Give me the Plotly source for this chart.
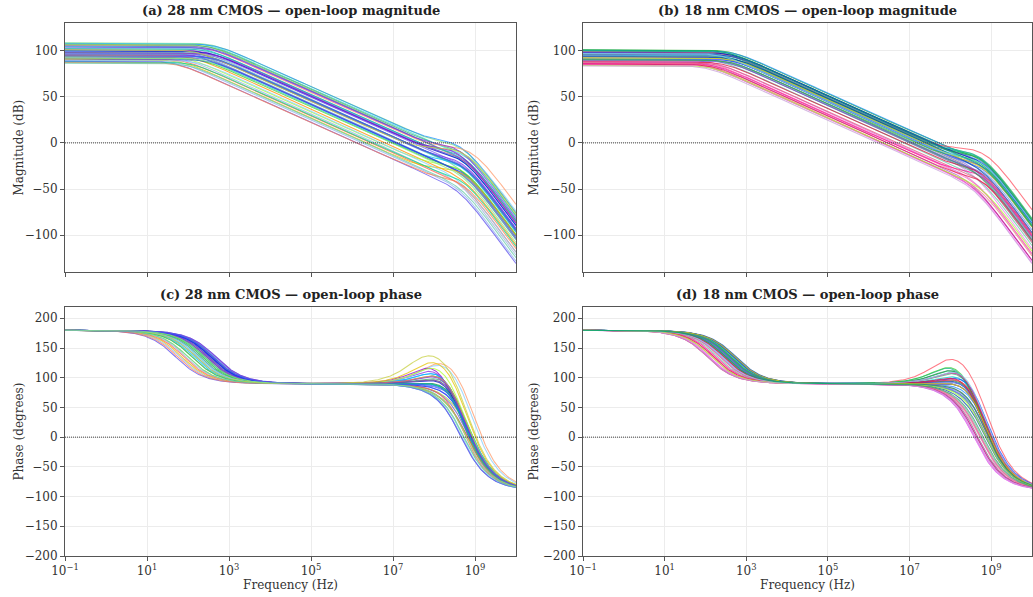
import numpy as np
import plotly.graph_objects as go

# ---------------- data (read/estimated from the reference) ----------------
# Each curve: DC gain (dB), log10 of dominant pole, log10 of LHP zero,
# log10 of the (triple) high-frequency pole, line colour.
dc_28 = [108.5, 108.0, 107.5, 107.0, 106.2, 105.5, 105.0, 104.2, 103.8, 103.0,
         102.2, 101.5, 100.8, 100.2, 99.5, 98.8, 98.0, 97.2, 96.5, 96.0,
         95.4, 94.8, 94.0, 93.5, 93.0, 92.4, 91.8, 91.2, 90.6, 90.0,
         89.5, 89.0, 88.4, 87.8, 87.2, 86.5, 97.8, 101.0, 94.4, 92.0]
lp1_28 = [2.62, 2.55, 2.68, 2.50, 2.60, 2.45, 2.55, 2.40, 2.58, 2.35,
          2.50, 2.30, 2.45, 2.25, 2.55, 2.20, 2.40, 2.15, 2.65, 2.30,
          2.50, 2.10, 2.60, 2.00, 2.45, 1.95, 2.35, 1.90, 2.55, 1.85,
          2.25, 1.80, 1.70, 2.10, 1.75, 2.00, 2.68, 2.20, 2.62, 2.40]
lz_28 = [8.0, 8.3, 7.9, 8.6, 8.1, 7.9, 8.4, 8.2, 7.8, 7.9,
         8.0, 8.5, 7.7, 8.3, 8.1, 8.7, 8.2, 7.9, 8.4, 8.6,
         8.0, 8.7, 8.2, 7.8, 8.5, 8.45, 8.1, 8.3, 8.4, 7.7,
         8.45, 8.40, 8.40, 8.2, 8.0, 8.5, 8.1, 7.5, 8.3, 8.5]
lp2_28 = [8.72, 8.78, 8.68, 8.82, 8.75, 8.95, 8.80, 8.70, 8.64, 8.90,
          8.72, 8.66, 8.62, 8.78, 8.70, 8.78, 8.72, 8.68, 8.76, 8.75,
          8.70, 8.78, 8.70, 8.72, 8.75, 8.60, 8.72, 8.64, 8.76, 8.78,
          8.60, 8.58, 8.58, 8.70, 8.72, 8.65, 8.72, 8.80, 8.75, 8.70]
col_28 = ['#7fdf7f', '#40e0d0', '#1e90ff', '#9acd32', '#3cb371', '#ff9a6a', '#4169e1', '#00ced1',
          '#8a2be2', '#87cefa', '#20b2aa', '#66cdaa', '#9400d3', '#48d1cc', '#0000cd', '#6495ed',
          '#2e8b57', '#00bfff', '#7b68ee', '#5f9ea0', '#8a2be2', '#ff8c00', '#4682b4', '#adff2f',
          '#6a5acd', '#9ab4de', '#32cd32', '#ff6347', '#1e3cff', '#e6c200', '#87cefa', '#8fb4ee',
          '#5b4bee', '#00da8a', '#ff7f50', '#66cdaa', '#9932cc', '#c8d040', '#3d5afe', '#88eb88']

dc_18 = [101.0, 100.5, 100.0, 99.5, 99.0, 98.5, 98.0, 97.5, 97.0, 96.5,
         96.0, 95.5, 95.0, 94.5, 94.0, 93.5, 93.0, 92.5, 92.0, 91.5,
         91.0, 90.5, 90.0, 89.5, 89.0, 88.5, 88.0, 87.5, 87.0, 86.5,
         86.0, 85.5, 85.0, 84.5, 84.0, 83.5, 92.2, 96.8, 90.2, 100.8]
lp1_18 = [2.62, 2.55, 2.70, 2.48, 2.60, 2.52, 2.66, 2.42, 2.58, 2.50,
          2.72, 2.45, 2.60, 2.38, 2.68, 2.55, 2.75, 2.40, 2.65, 2.30,
          2.70, 2.50, 2.62, 2.20, 2.58, 2.15, 2.45, 2.10, 2.35, 2.05,
          2.25, 2.05, 2.20, 2.10, 2.15, 2.05, 2.72, 2.40, 2.60, 2.50]
lz_18 = [8.2, 8.0, 8.4, 7.9, 8.6, 7.7, 8.3, 8.55, 7.8, 8.5,
         8.2, 8.5, 8.1, 8.4, 7.9, 8.3, 8.6, 8.42, 8.0, 8.6,
         8.2, 8.5, 7.8, 8.45, 8.3, 8.55, 8.1, 8.40, 8.4, 8.6,
         8.0, 8.5, 8.2, 8.38, 8.5, 8.45, 8.3, 8.0, 8.6, 8.4]
lp2_18 = [8.80, 8.78, 8.82, 8.75, 8.85, 8.88, 8.80, 8.68, 8.72, 8.82,
          8.78, 8.62, 8.80, 8.74, 8.76, 8.84, 8.78, 8.55, 8.80, 8.72,
          8.86, 8.78, 8.74, 8.58, 8.80, 8.66, 8.76, 8.52, 8.78, 8.70,
          8.80, 8.60, 8.82, 8.52, 8.76, 8.56, 8.80, 8.82, 8.74, 8.78]
col_18 = ['#22aa22', '#3cb371', '#1e90ff', '#00c957', '#4682b4', '#ff5060', '#0000cd', '#9370db',
          '#20b2aa', '#6495ed', '#1f3fbf', '#808080', '#00ced1', '#7b68ee', '#2e8b57', '#4169e1',
          '#0047ab', '#ee82ee', '#48d1cc', '#66cdaa', '#1e40ff', '#5f9ea0', '#32cd32', '#da70d6',
          '#6a5acd', '#ff69b4', '#dc143c', '#ba55d3', '#e75480', '#f08080', '#ff1493', '#c71585',
          '#e6194b', '#ff77ff', '#adff2f', '#c8a0d8', '#e6d200', '#87ceeb', '#3d9970', '#00a86b']

x_tick_exp = [-1, 1, 3, 5, 7, 9]
mag_ticks = [-100, -50, 0, 50, 100]
phase_ticks = [-200, -150, -100, -50, 0, 50, 100, 150, 200]
titles = ["(a) 28 nm CMOS — open-loop magnitude", "(b) 18 nm CMOS — open-loop magnitude",
          "(c) 28 nm CMOS — open-loop phase", "(d) 18 nm CMOS — open-loop phase"]
y_titles = ["Magnitude (dB)", "Magnitude (dB)", "Phase (degrees)", "Phase (degrees)"]
x_title = "Frequency (Hz)"

# ---------------- computation ----------------
f = np.logspace(-1, 10, 500)


def bode(dc, lp1, lz, lp2):
    p1, z, p2 = 10 ** lp1, 10 ** lz, 10 ** lp2
    mag = (dc - 10 * np.log10(1 + (f / p1) ** 2) + 10 * np.log10(1 + (f / z) ** 2)
           - 30 * np.log10(1 + (f / p2) ** 2))
    ph = (180 - np.degrees(np.arctan(f / p1)) + np.degrees(np.arctan(f / z))
          - 3 * np.degrees(np.arctan(f / p2)))
    return mag, ph


fig = go.Figure()
sets = [(dc_28, lp1_28, lz_28, lp2_28, col_28, 'x', 'y', 'x3', 'y3'),
        (dc_18, lp1_18, lz_18, lp2_18, col_18, 'x2', 'y2', 'x4', 'y4')]
for dcs, lp1s, lzs, lp2s, cols, xm, ym, xp, yp in sets:
    for dc, a, b, c, col in zip(dcs, lp1s, lzs, lp2s, cols):
        mag, ph = bode(dc, a, b, c)
        fig.add_trace(go.Scatter(x=f, y=mag, mode='lines', xaxis=xm, yaxis=ym,
                                 line=dict(color=col, width=1.05), opacity=0.75,
                                 showlegend=False, hoverinfo='skip'))
        fig.add_trace(go.Scatter(x=f, y=ph, mode='lines', xaxis=xp, yaxis=yp,
                                 line=dict(color=col, width=1.05), opacity=0.75,
                                 showlegend=False, hoverinfo='skip'))

W, H = 1033, 597
xd_left = [65 / W, 516 / W]
xd_right = [583 / W, 1032 / W]
yd_top = [(H - 272) / H, (H - 23) / H]
yd_bot = [(H - 556) / H, (H - 307) / H]

font_fam = "DejaVu Serif"
tickvals = [10.0 ** e for e in x_tick_exp]
ticktext = [f"10<sup>{'−' + str(-e) if e < 0 else e}</sup>" for e in x_tick_exp]

common_axis = dict(showline=True, mirror=True, linecolor='#555555', linewidth=1,
                   ticks='outside', ticklen=4, tickcolor='#555555', automargin=False,
                   showgrid=True, gridcolor='#ececec', gridwidth=0.8,
                   zeroline=False, tickfont=dict(family=font_fam, size=12, color='#333333'))

xcommon = dict(type='log', range=[-1, 10], tickvals=tickvals, ticktext=ticktext, **common_axis)

layout = dict(
    width=W, height=H, margin=dict(l=0, r=0, t=0, b=0, autoexpand=False),
    paper_bgcolor='white', plot_bgcolor='white',
    font=dict(family=font_fam, color='#333333'),
    xaxis=dict(domain=xd_left, anchor='y', showticklabels=False, **xcommon),
    xaxis2=dict(domain=xd_right, anchor='y2', showticklabels=False, **xcommon),
    xaxis3=dict(domain=xd_left, anchor='y3',
                title=dict(text=x_title, font=dict(size=12), standoff=2), **xcommon),
    xaxis4=dict(domain=xd_right, anchor='y4',
                title=dict(text=x_title, font=dict(size=12), standoff=2), **xcommon),
    yaxis=dict(domain=yd_top, anchor='x', range=[-140, 130], tickvals=mag_ticks, **common_axis),
    yaxis2=dict(domain=yd_top, anchor='x2', range=[-140, 130], tickvals=mag_ticks, **common_axis),
    yaxis3=dict(domain=yd_bot, anchor='x3', range=[-200, 219], tickvals=phase_ticks, **common_axis),
    yaxis4=dict(domain=yd_bot, anchor='x4', range=[-200, 219], tickvals=phase_ticks, **common_axis),
)
fig.update_layout(**layout)

# zero reference lines
for xr, yr in [('x', 'y'), ('x2', 'y2'), ('x3', 'y3'), ('x4', 'y4')]:
    fig.add_shape(type='line', xref=f'{xr} domain', yref=yr, x0=0, x1=1, y0=0, y1=0,
                  line=dict(color='#444444', width=1, dash='1px,1px'), layer='above')

# panel titles
tpos = [((xd_left[0] + xd_left[1]) / 2, yd_top[1]), ((xd_right[0] + xd_right[1]) / 2, yd_top[1]),
        ((xd_left[0] + xd_left[1]) / 2, yd_bot[1]), ((xd_right[0] + xd_right[1]) / 2, yd_bot[1])]
for (tx, ty), t in zip(tpos, titles):
    fig.add_annotation(text=f"<b>{t}</b>", x=tx, y=ty, xref='paper', yref='paper',
                       xanchor='center', yanchor='bottom', yshift=3, showarrow=False,
                       font=dict(family=font_fam, size=13, color='#222222'))

# y-axis titles
ypos = [(18 / W, sum(yd_top) / 2), (533 / W, sum(yd_top) / 2),
        (18 / W, sum(yd_bot) / 2), (533 / W, sum(yd_bot) / 2)]
for (tx, ty), t in zip(ypos, y_titles):
    fig.add_annotation(text=t, x=tx, y=ty, xref='paper', yref='paper', textangle=-90,
                       xanchor='center', yanchor='middle', showarrow=False,
                       font=dict(family=font_fam, size=12, color='#333333'))

fig.write_html("out.html", config={'displayModeBar': False},
               post_script="document.body.style.margin='0';document.body.style.overflow='hidden';")
